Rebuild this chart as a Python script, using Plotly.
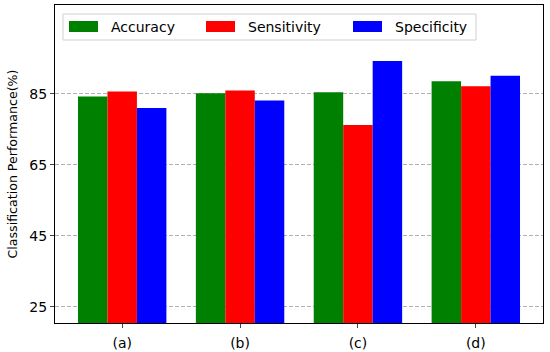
import plotly.graph_objects as go

categories = ["(a)", "(b)", "(c)", "(d)"]
accuracy = [84.2, 85.1, 85.4, 88.5]
sensitivity = [85.6, 85.9, 76.2, 87.1]
specificity = [81.0, 83.1, 94.2, 90.1]
y_ticks = [25, 45, 65, 85]

series = [
    ("Accuracy", accuracy, "green"),
    ("Sensitivity", sensitivity, "red"),
    ("Specificity", specificity, "blue"),
]

font = "DejaVu Sans"
W, H = 550, 352
L, R, T, B = 55, 7, 5, 29
pw, ph = W - L - R, H - T - B


def px_x(x):
    return (x - L) / pw


def px_y(y):
    return (H - B - y) / ph


fig = go.Figure()
for name, vals, color in series:
    fig.add_trace(go.Bar(x=categories, y=vals, name=name, marker_color=color,
                         marker_line_width=0, showlegend=False))

# matplotlib-style legend box (wide patches) drawn by hand
fig.add_shape(type="rect", xref="paper", yref="paper",
              x0=px_x(63), x1=px_x(476), y0=px_y(40), y1=px_y(14),
              line={"color": "#d0d0d0", "width": 1}, fillcolor="white", layer="above")
patch_left = [69, 206, 353]
for (name, _, color), x0 in zip(series, patch_left):
    fig.add_shape(type="rect", xref="paper", yref="paper",
                  x0=px_x(x0), x1=px_x(x0 + 29), y0=px_y(32), y1=px_y(21),
                  line={"width": 0}, fillcolor=color, layer="above")
    fig.add_annotation(x=px_x(x0 + 40), y=px_y(27), xref="paper", yref="paper",
                       text=name, showarrow=False, xanchor="left", yanchor="middle",
                       font={"size": 14})

fig.update_layout(
    width=W,
    height=H,
    margin={"l": L, "r": R, "t": T, "b": B},
    plot_bgcolor="white",
    paper_bgcolor="white",
    barmode="group",
    bargap=0.25,
    bargroupgap=0,
    font={"family": font, "color": "black"},
    xaxis={
        "range": [-0.57, 3.57],
        "showline": True,
        "linecolor": "black",
        "mirror": True,
        "ticks": "outside",
        "ticklen": 4,
        "ticklabelstandoff": 3,
        "tickfont": {"size": 14},
        "showgrid": False,
        "automargin": False,
    },
    yaxis={
        "range": [20.4, 110],
        "tickvals": y_ticks,
        "showline": True,
        "linecolor": "black",
        "mirror": True,
        "ticks": "outside",
        "ticklen": 4,
        "tickfont": {"size": 14},
        "showgrid": True,
        "gridcolor": "#b0b0b0",
        "griddash": "4px,2px",
        "layer": "above traces",
        "zeroline": False,
        "title": {"text": "Classification Performance(%)", "font": {"size": 12.6}, "standoff": 8},
    },
)

fig.write_html("out.html", config={"displayModeBar": False},
               post_script="document.body.style.margin='0';")
